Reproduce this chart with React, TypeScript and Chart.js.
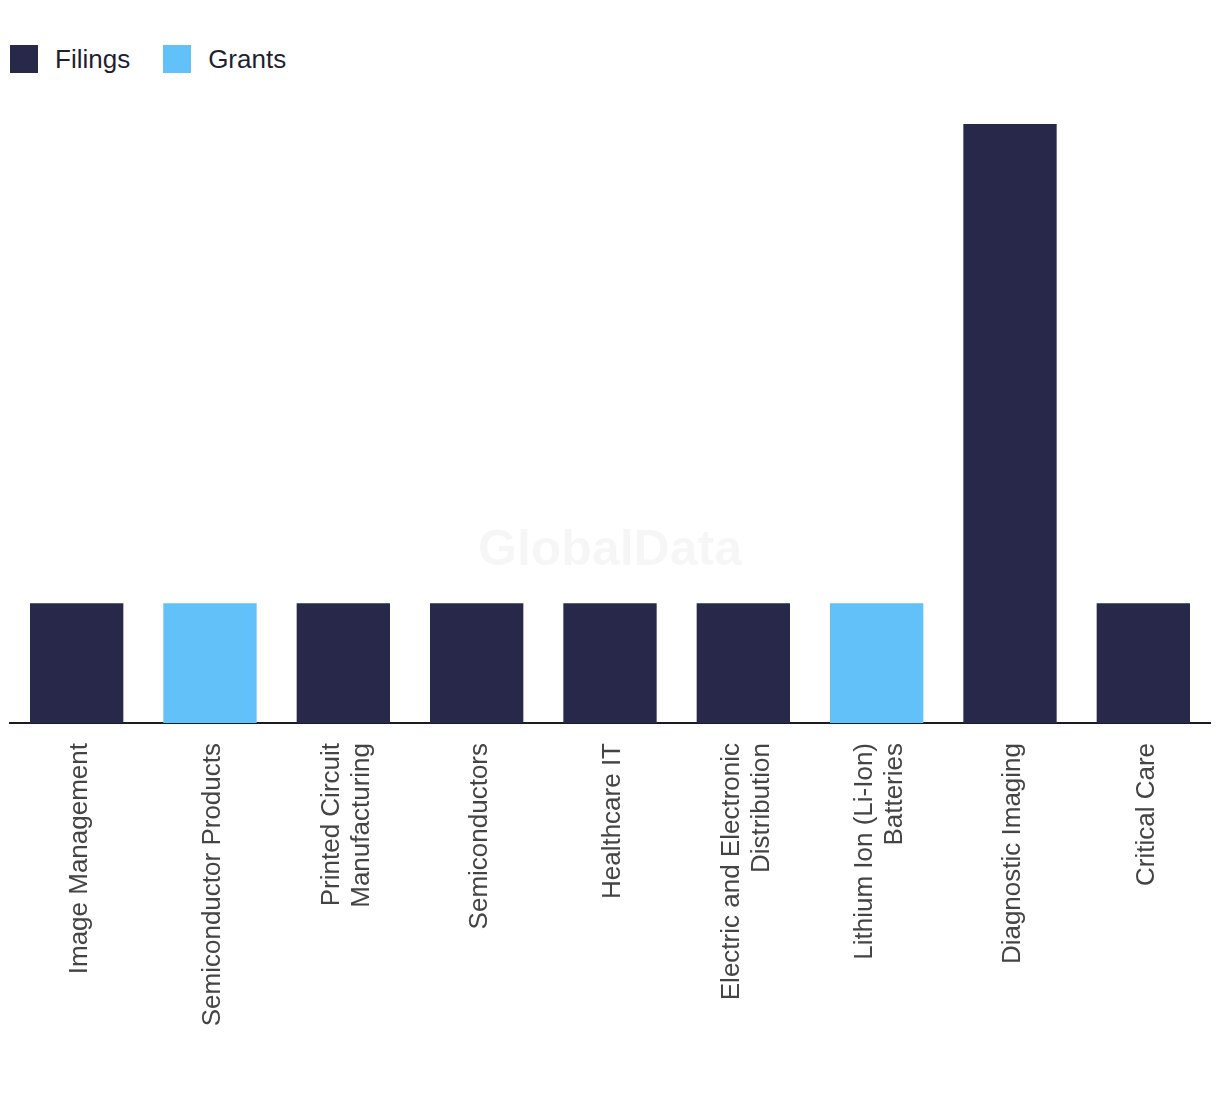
import React, { useEffect, useRef } from "react";
import { Chart, registerables } from "chart.js";

Chart.register(...registerables);

const categories: (string | string[])[] = [
  "Image Management",
  "Semiconductor Products",
  ["Printed Circuit", "Manufacturing"],
  "Semiconductors",
  "Healthcare IT",
  ["Electric and Electronic", "Distribution"],
  ["Lithium Ion (Li-Ion)", "Batteries"],
  "Diagnostic Imaging",
  "Critical Care",
];

const filings: (number | null)[] = [1, null, 1, 1, 1, 1, null, 5, 1];
const grants: (number | null)[] = [null, 1, null, null, null, null, 1, null, null];

const seriesNames = ["Filings", "Grants"];
const seriesColors = ["#27284a", "#62c1f9"];

const FONT = "'Liberation Sans', Arial, sans-serif";
const TICK_SIZE = 26;
const TICK_LINE_PX = 30;

const watermarkPlugin = {
  id: "watermark",
  beforeDatasetsDraw(chart: any) {
    const { ctx, chartArea } = chart;
    ctx.save();
    ctx.font = `bold 50px 'Liberation Sans', Arial, sans-serif`;
    ctx.fillStyle = "rgba(0,0,0,0.035)";
    ctx.textAlign = "center";
    ctx.textBaseline = "middle";
    const x = (chartArea.left + chartArea.right) / 2;
    const y = chartArea.bottom - 172;
    ctx.fillText("GlobalData", x, y);
    ctx.restore();
  },
};

// center multi-line rotated labels on their tick
const centerLabelsPlugin = {
  id: "centerLabels",
  beforeDraw(chart: any) {
    const scale = chart.scales.x;
    if (!scale || typeof scale.getLabelItems !== "function") return;
    const items = scale.getLabelItems(chart.chartArea) || [];
    items.forEach((item: any) => {
      if (item._centered) return;
      const opts = item.options || item;
      const tr = opts.translation;
      if (!tr) return;
      const n = Array.isArray(item.label) ? item.label.length : 1;
      opts.translation = [tr[0] + 3 - ((n - 1) * TICK_LINE_PX) / 2, tr[1]];
      item._centered = true;
    });
  },
};

export default function App() {
  const canvasRef = useRef<HTMLCanvasElement | null>(null);

  useEffect(() => {
    if (!canvasRef.current) return;
    const chart = new Chart(canvasRef.current, {
      type: "bar",
      data: {
        labels: categories,
        datasets: [
          {
            label: seriesNames[0],
            data: filings,
            backgroundColor: seriesColors[0],
            borderWidth: 0,
          },
          {
            label: seriesNames[1],
            data: grants,
            backgroundColor: seriesColors[1],
            borderWidth: 0,
          },
        ],
      },
      options: {
        animation: false,
        responsive: true,
        maintainAspectRatio: false,
        layout: { padding: { top: 51, left: 2, right: 2, bottom: 0 } },
        datasets: {
          bar: { categoryPercentage: 0.7, barPercentage: 1 },
        },
        plugins: {
          legend: { display: false },
          tooltip: { enabled: false },
        },
        scales: {
          x: {
            stacked: true,
            grid: { display: false, drawTicks: false },
            border: { display: true, color: "#1a1a2e", width: 2 },
            ticks: {
              maxRotation: 90,
              minRotation: 90,
              autoSkip: false,
              padding: 20,
              color: "#444444",
              font: { family: FONT, size: TICK_SIZE, lineHeight: `${TICK_LINE_PX}px` },
            },
            afterFit(scale: any) {
              scale.height = 363;
            },
          },
          y: {
            stacked: true,
            display: false,
            min: 0,
            max: 5,
          },
        },
      },
      plugins: [watermarkPlugin, centerLabelsPlugin],
    });
    return () => chart.destroy();
  }, []);

  return (
    <div style={{ width: 1204 }}>
      <div
        style={{
          display: "flex",
          alignItems: "center",
          paddingTop: 37,
          marginLeft: 2,
          height: 28,
          fontFamily: FONT,
          fontSize: 26,
          color: "#1f1f33",
        }}
      >
        {seriesNames.map((name, i) => (
          <div key={name} style={{ display: "flex", alignItems: "center", marginRight: 33 }}>
            <span
              style={{
                display: "inline-block",
                width: 28,
                height: 28,
                background: seriesColors[i],
                marginRight: 17,
              }}
            />
            <span style={{ lineHeight: "28px" }}>{name}</span>
          </div>
        ))}
      </div>
      <div style={{ position: "relative", width: 1204, height: 1013 }}>
        <canvas ref={canvasRef} />
      </div>
    </div>
  );
}
